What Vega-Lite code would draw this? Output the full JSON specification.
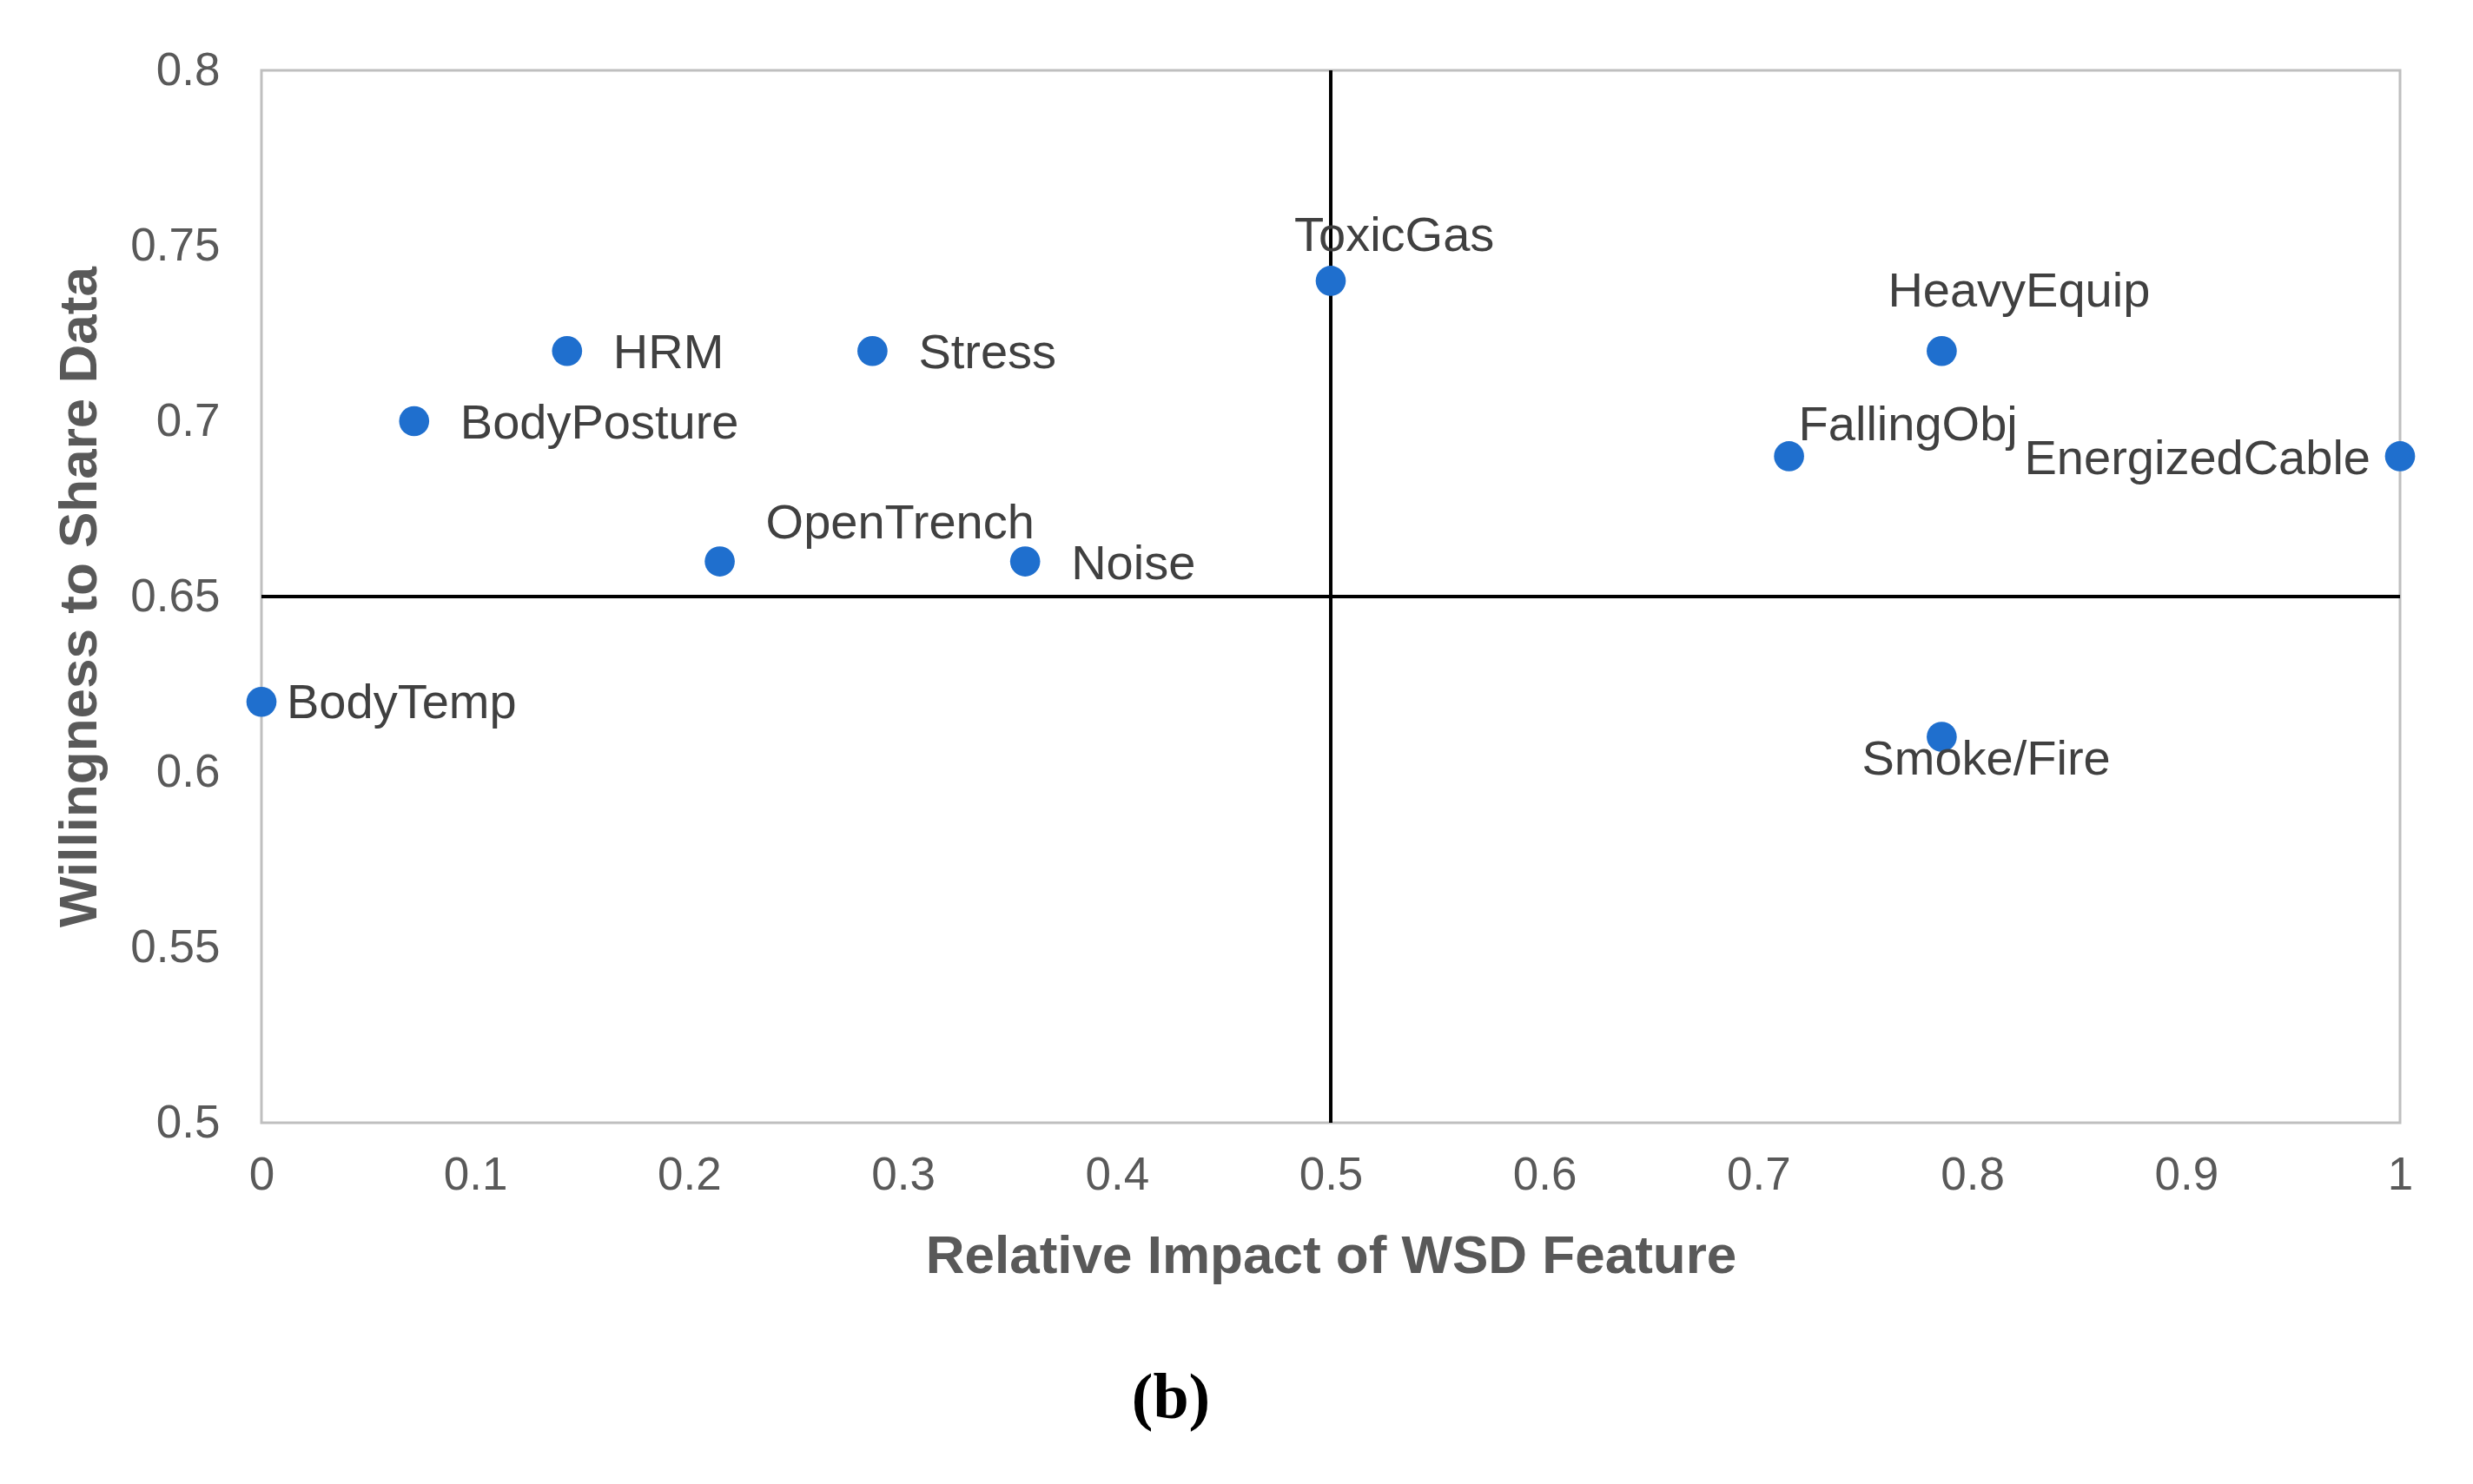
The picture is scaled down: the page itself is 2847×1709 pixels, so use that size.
{
  "$schema": "https://vega.github.io/schema/vega-lite/v6.json",
  "width": 2462,
  "height": 1212,
  "autosize": {"type": "none"},
  "padding": {"left": 301, "top": 81, "right": 84, "bottom": 416},
  "background": "white",
  "config": {
    "view": {"stroke": "#bfbfbf", "strokeWidth": 3},
    "font": "Liberation Sans"
  },
  "title": {
    "text": "(b)",
    "orient": "bottom",
    "anchor": "middle",
    "font": "Liberation Serif",
    "fontSize": 74,
    "fontWeight": "bold",
    "color": "#000000",
    "dx": -184,
    "offset": 98
  },
  "data": {
    "values": [
      {"name": "BodyTemp", "impact": 0.0, "willingness": 0.62},
      {"name": "BodyPosture", "impact": 0.0714, "willingness": 0.70},
      {"name": "HRM", "impact": 0.1429, "willingness": 0.72},
      {"name": "OpenTrench", "impact": 0.2143, "willingness": 0.66},
      {"name": "Stress", "impact": 0.2857, "willingness": 0.72},
      {"name": "Noise", "impact": 0.3571, "willingness": 0.66},
      {"name": "ToxicGas", "impact": 0.5, "willingness": 0.74},
      {"name": "FallingObj", "impact": 0.7143, "willingness": 0.69},
      {"name": "HeavyEquip", "impact": 0.7857, "willingness": 0.72},
      {"name": "Smoke/Fire", "impact": 0.7857, "willingness": 0.61},
      {"name": "EnergizedCable", "impact": 1.0, "willingness": 0.69}
    ]
  },
  "encoding": {
    "x": {
      "field": "impact", "type": "quantitative",
      "scale": {"domain": [0, 1], "nice": false, "zero": false},
      "axis": {
        "title": "Relative Impact of WSD Feature",
        "values": [0, 0.1, 0.2, 0.3, 0.4, 0.5, 0.6, 0.7, 0.8, 0.9, 1],
        "format": ".1~f",
        "domain": false, "ticks": false, "grid": false,
        "labelFont": "Liberation Sans", "labelFontSize": 53, "labelColor": "#595959",
        "labelPadding": 34, "labelFlush": false,
        "titleFont": "Liberation Sans", "titleFontSize": 62, "titleFontWeight": "bold",
        "titleColor": "#595959", "titlePadding": 36
      }
    },
    "y": {
      "field": "willingness", "type": "quantitative",
      "scale": {"domain": [0.5, 0.8], "nice": false, "zero": false},
      "axis": {
        "title": "Willingness to Share Data",
        "values": [0.5, 0.55, 0.6, 0.65, 0.7, 0.75, 0.8],
        "format": ".2~f",
        "domain": false, "ticks": false, "grid": false,
        "labelFont": "Liberation Sans", "labelFontSize": 53, "labelColor": "#595959",
        "labelPadding": 48, "labelFlush": false,
        "titleFont": "Liberation Sans", "titleFontSize": 62, "titleFontWeight": "bold",
        "titleColor": "#595959", "titlePadding": 26
      }
    }
  },
  "layer": [
    {"mark": {"type": "rule", "color": "#000000", "strokeWidth": 4}, "encoding": {"x": {"datum": 0.5}, "y": null}},
    {"mark": {"type": "rule", "color": "#000000", "strokeWidth": 4}, "encoding": {"y": {"datum": 0.65}, "x": null}},
    {"mark": {"type": "circle", "color": "#1f6fce", "opacity": 1, "size": 1200}},
    {
      "transform": [{"filter": "indexof(['BodyPosture','HRM','Stress','Noise'], datum.name) >= 0"}],
      "mark": {"type": "text", "align": "left", "baseline": "middle", "dx": 53, "dy": 3, "fontSize": 56, "color": "#404040"},
      "encoding": {"text": {"field": "name"}}
    },
    {
      "transform": [{"filter": "datum.name == 'BodyTemp'"}],
      "mark": {"type": "text", "align": "left", "baseline": "middle", "dx": 29, "dy": 2, "fontSize": 56, "color": "#404040"},
      "encoding": {"text": {"field": "name"}}
    },
    {
      "transform": [{"filter": "datum.name == 'OpenTrench'"}],
      "mark": {"type": "text", "align": "left", "baseline": "middle", "dx": 53, "dy": -44, "fontSize": 56, "color": "#404040"},
      "encoding": {"text": {"field": "name"}}
    },
    {
      "transform": [{"filter": "datum.name == 'ToxicGas'"}],
      "mark": {"type": "text", "align": "left", "baseline": "middle", "dx": -42, "dy": -51, "fontSize": 56, "color": "#404040"},
      "encoding": {"text": {"field": "name"}}
    },
    {
      "transform": [{"filter": "datum.name == 'HeavyEquip'"}],
      "mark": {"type": "text", "align": "left", "baseline": "middle", "dx": -62, "dy": -68, "fontSize": 56, "color": "#404040"},
      "encoding": {"text": {"field": "name"}}
    },
    {
      "transform": [{"filter": "datum.name == 'FallingObj'"}],
      "mark": {"type": "text", "align": "left", "baseline": "middle", "dx": 11, "dy": -35, "fontSize": 56, "color": "#404040"},
      "encoding": {"text": {"field": "name"}}
    },
    {
      "transform": [{"filter": "datum.name == 'EnergizedCable'"}],
      "mark": {"type": "text", "align": "right", "baseline": "middle", "dx": -34, "dy": 4, "fontSize": 56, "color": "#404040"},
      "encoding": {"text": {"field": "name"}}
    },
    {
      "transform": [{"filter": "datum.name == 'Smoke/Fire'"}],
      "mark": {"type": "text", "align": "left", "baseline": "middle", "dx": -92, "dy": 26, "fontSize": 56, "color": "#404040"},
      "encoding": {"text": {"field": "name"}}
    }
  ]
}
